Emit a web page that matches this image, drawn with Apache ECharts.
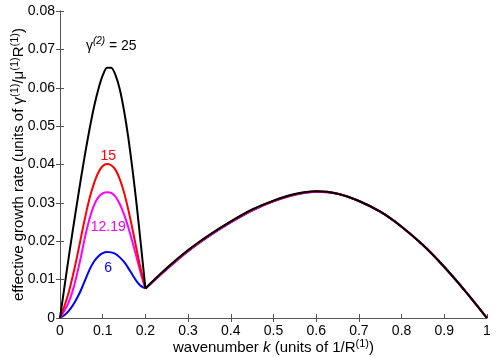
<!DOCTYPE html>
<html>
<head>
<meta charset="utf-8">
<script src="https://cdn.jsdelivr.net/npm/echarts@6/dist/echarts.min.js"></script>
<style>
  html, body { margin: 0; padding: 0; background: #fff; }
  #chart { width: 498px; height: 358px; }
</style>
</head>
<body>
<div id="chart"></div>
<script>
// wavenumber k, first hump (0 .. 0.2)
const humpK = [0, 0.01, 0.02, 0.03, 0.04, 0.05, 0.06, 0.07, 0.08, 0.09, 0.10,
    0.11, 0.12, 0.13, 0.14, 0.15, 0.16, 0.17, 0.18, 0.19, 0.20]
const humpBlack = [0, 0.0078, 0.0155, 0.0229, 0.0300, 0.0370, 0.0436, 0.0497, 0.0552, 0.0597, 0.0632,
    0.0652, 0.0652, 0.0633, 0.0596, 0.0540, 0.0470, 0.0385, 0.0290, 0.0185, 0.0077]
const humpRed = [0, 0.0030, 0.0065, 0.0110, 0.0160, 0.0215, 0.0268, 0.0315, 0.0352, 0.0380, 0.0396,
    0.0401, 0.0398, 0.0386, 0.0362, 0.0327, 0.0282, 0.0230, 0.0175, 0.0123, 0.0077]
const humpMagenta = [0, 0.0018, 0.0040, 0.0072, 0.0115, 0.0165, 0.0218, 0.0262, 0.0295, 0.0315, 0.0325,
    0.0328, 0.0326, 0.0316, 0.0297, 0.0270, 0.0236, 0.0197, 0.0155, 0.0113, 0.0077]
const humpBlue = [0, 0.0007, 0.0018, 0.0033, 0.0052, 0.0075, 0.0102, 0.0128, 0.0148, 0.0161, 0.0169,
    0.0172, 0.0171, 0.0167, 0.0158, 0.0146, 0.0130, 0.0112, 0.0095, 0.0083, 0.0077]

// second branch (0.2 .. 1)
const tailK = [0.20, 0.25, 0.30, 0.35, 0.40, 0.45, 0.50, 0.55, 0.60, 0.65, 0.70, 0.75, 0.80, 0.85, 0.90, 0.95, 1.00]
const tailBlack = [0.0077, 0.0130, 0.0177, 0.0217, 0.0252, 0.0283, 0.0306, 0.0323, 0.0330, 0.0324, 0.0305, 0.0277, 0.0238, 0.0190, 0.0133, 0.0069, 0]
const tailRed = [0.0077, 0.0129, 0.0176, 0.0216, 0.0251, 0.0282, 0.0305, 0.0322, 0.0330, 0.0324, 0.0305, 0.0277, 0.0238, 0.0190, 0.0133, 0.0069, 0]
const tailMagenta = [0.0077, 0.0128, 0.0175, 0.0215, 0.0250, 0.0281, 0.0305, 0.0322, 0.0329, 0.0324, 0.0305, 0.0277, 0.0238, 0.0190, 0.0133, 0.0069, 0]
const tailBlue = [0.0077, 0.0127, 0.0174, 0.0214, 0.0249, 0.0280, 0.0304, 0.0321, 0.0329, 0.0324, 0.0305, 0.0277, 0.0238, 0.0190, 0.0133, 0.0069, 0]

const curveNames = ['6', '12.19', '15', '25']
const curveColors = ['#0000ff', '#ff00ff', '#ff0000', '#000000']
const peakK = 0.113

const xTicks = [0, 0.1, 0.2, 0.3, 0.4, 0.5, 0.6, 0.7, 0.8, 0.9, 1]
const yTicks = [0, 0.01, 0.02, 0.03, 0.04, 0.05, 0.06, 0.07, 0.08]

const font = 'Liberation Sans, Arial, Helvetica, sans-serif'
const axisGray = '#555'

const zip = (ks, vs) => ks.map((k, i) => [k, vs[i]])

const curves = [
    { hump: humpBlue, tail: tailBlue, peak: 0.0172, offset: [0, 16] },
    { hump: humpMagenta, tail: tailMagenta, peak: 0.0328, offset: [0, 35] },
    { hump: humpRed, tail: tailRed, peak: 0.0401, offset: [0, -8] },
    { hump: humpBlack, tail: tailBlack, peak: 0.0655, offset: [3, -21] }
]

const series = []
curves.forEach((c, i) => {
    const line = {
        type: 'line',
        showSymbol: false,
        smooth: 0.25,
        lineStyle: { color: curveColors[i], width: 2 },
        itemStyle: { color: curveColors[i] },
        z: 2 + i
    }
    series.push({
        ...line,
        data: zip(humpK, c.hump),
        markPoint: {
            symbol: 'circle',
            symbolSize: 0,
            silent: true,
            data: [{ coord: [peakK, c.peak] }],
            label: {
                show: true,
                position: 'inside',
                offset: c.offset,
                fontFamily: font,
                fontSize: 14,
                color: curveColors[i],
                formatter: i === 3 ? '{g|γ}{sup|(2)}{n| = 25}' : curveNames[i],
                rich: {
                    g: { fontFamily: font, fontSize: 14, color: '#000' },
                    sup: { fontFamily: font, fontSize: 10, fontStyle: 'italic', color: '#000', padding: [0, 0, 8, 0] },
                    n: { fontFamily: font, fontSize: 14, color: '#000' }
                }
            }
        }
    })
    series.push({ ...line, data: zip(tailK, c.tail) })
})

const chart = echarts.init(document.getElementById('chart'))
chart.setOption({
    animation: false,
    backgroundColor: '#fff',
    grid: { left: 60, right: 11, top: 11, bottom: 40, outerBoundsMode: 'none', containLabel: false },
    xAxis: [
        {
            type: 'value',
            min: 0,
            max: 1,
            interval: 0.1,
            position: 'bottom',
            name: '{t|wavenumber }{i|k}{t| (units of 1/R}{s|(1)}{t|)}',
            nameLocation: 'middle',
            nameGap: 20,
            nameMoveOverlap: false,
            nameTextStyle: {
                rich: {
                    t: { fontFamily: font, fontSize: 15, color: '#000' },
                    i: { fontFamily: font, fontSize: 15, fontStyle: 'italic', color: '#000' },
                    s: { fontFamily: font, fontSize: 11, color: '#000', padding: [0, 0, 9, 0] }
                }
            },
            axisLine: { show: true, lineStyle: { color: axisGray, width: 1 } },
            axisTick: { show: true, inside: true, length: 4, lineStyle: { color: axisGray } },
            axisLabel: {
                fontFamily: font, fontSize: 14, color: '#000', margin: 6,
                formatter: v => xTicks.includes(+v.toFixed(2)) ? String(+v.toFixed(2)) : ''
            },
            splitLine: { show: false }
        },
        {
            type: 'value',
            min: 0,
            max: 1,
            interval: 0.1,
            position: 'top',
            axisLine: { show: false },
            axisTick: { show: true, inside: true, length: 4, lineStyle: { color: axisGray },
                customValues: [0.3, 0.4, 0.5, 0.6, 0.7] },
            axisLabel: { show: false },
            splitLine: { show: false }
        }
    ],
    yAxis: [
        {
            type: 'value',
            min: 0,
            max: 0.08,
            interval: 0.01,
            position: 'left',
            name: '{t|effective growth rate (units of γ}{s|(1)}{t|/μ}{s|(1)}{t|R}{s|(1)}{t|)}',
            nameLocation: 'middle',
            nameRotate: 90,
            nameGap: 31,
            nameMoveOverlap: false,
            nameTextStyle: {
                rich: {
                    t: { fontFamily: font, fontSize: 15, color: '#000' },
                    s: { fontFamily: font, fontSize: 11, color: '#000', padding: [0, 0, 9, 0] }
                }
            },
            axisLine: { show: true, lineStyle: { color: axisGray, width: 1 } },
            axisTick: { show: true, inside: true, length: 4, lineStyle: { color: axisGray } },
            axisLabel: {
                fontFamily: font, fontSize: 14, color: '#000', margin: 5,
                formatter: v => yTicks.includes(+v.toFixed(3)) ? String(+v.toFixed(3)) : ''
            },
            splitLine: { show: false }
        },
        {
            type: 'value',
            min: 0,
            max: 0.08,
            interval: 0.01,
            position: 'right',
            axisLine: { show: true, lineStyle: { color: axisGray, width: 1 } },
            axisTick: { show: true, inside: true, length: 4, lineStyle: { color: axisGray } },
            axisLabel: { show: false },
            splitLine: { show: false }
        }
    ],
    series
})
</script>
</body>
</html>
